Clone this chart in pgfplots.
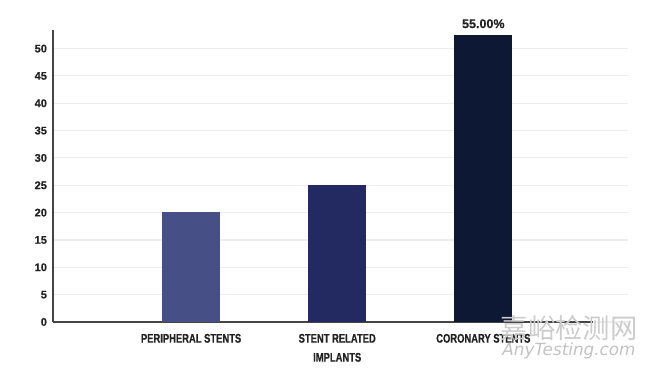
\documentclass[border=0pt]{standalone}
\usepackage{pgfplots}
\pgfplotsset{compat=1.18}
\usepackage{fontspec}
\setmainfont{Liberation Sans}
\newfontfamily\condb{Liberation Sans Bold}[FakeStretch=0.75, FakeBold=0.6]
\newfontfamily\numb{Liberation Sans Bold}[FakeBold=0.5]
\newfontfamily\cjk{Noto Sans CJK SC}
\newfontfamily\wm{DejaVu Sans}
\definecolor{barA}{HTML}{465086}
\definecolor{barB}{HTML}{232A62}
\definecolor{barC}{HTML}{0D1835}
\definecolor{gridc}{HTML}{EDEDED}
\definecolor{axc}{HTML}{444444}
\definecolor{txt}{HTML}{222222}
\begin{document}
\begin{tikzpicture}
\begin{axis}[
  anchor=origin, at={(0pt,0pt)},
  scale only axis, width=431.25pt, height=219pt,
  xmin=0.055, xmax=3.99, ymin=0, ymax=53.4,
  axis x line*=bottom, axis y line*=left,
  axis line style={axc, line width=0.9pt, -},
  x axis line style={shorten >=26pt},
  ytick={0,5,...,50},
  ymajorgrids, grid style={gridc, line width=0.8pt},
  xtick={1,2,3},
  xticklabels={PERIPHERAL STENTS, STENT RELATED\\IMPLANTS, CORONARY STENTS},
  xticklabel style={align=center, font=\condb\fontsize{9.4}{14.25}\selectfont, text=txt, yshift=-5.4pt},
  yticklabel style={font=\numb\fontsize{8.3}{9}\selectfont, text=txt, xshift=-1pt},
  /pgf/number format/assume math mode=true,
  major tick length=0pt,
  ybar, bar width=43.5pt, bar shift=0pt,
  clip=false,
]
\addplot[fill=barA, draw=none] coordinates {(1,20.2)};
\addplot[fill=barB, draw=none] coordinates {(2,25.0)};
\addplot[fill=barC, draw=none,
  nodes near coords, point meta=explicit symbolic,
  every node near coord/.append style={font=\numb\fontsize{9.4}{11}\selectfont, text=txt, yshift=1.5pt}]
  coordinates {(3,52.5) [55.00\%]};
\end{axis}
% picture frame: 650x370 px at 0.75pt/px, axis box bottom-left at (53px, 48px from bottom)
\begin{scope}[x=0.75pt,y=0.75pt,shift={(-53,-48)}]
\node[anchor=center, text=black!20, font=\cjk\fontsize{20.5}{24}\selectfont] at (569,42) {嘉峪检测网};
\node[anchor=center, text=black!24, font=\wm\itshape\fontsize{12.6}{14}\selectfont] at (569,19) {AnyTesting.com};
\pgfresetboundingbox
\useasboundingbox (0,0) rectangle (650,370);
\end{scope}
\end{tikzpicture}
\end{document}
